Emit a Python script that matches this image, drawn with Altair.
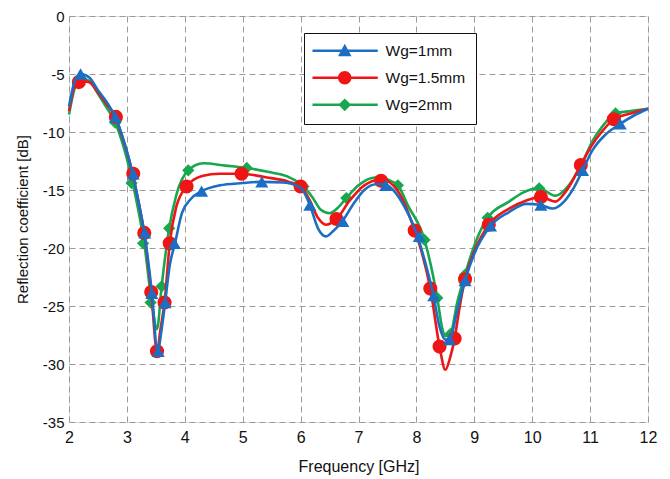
import altair as alt
import pandas as pd

series = ["Wg=1mm", "Wg=1.5mm", "Wg=2mm"]
colors = ["#1B6EC2", "#F01515", "#18A64F"]

# ---- continuous curves ----
f_blue = [2.0, 2.1, 2.2, 2.35, 2.5, 2.65, 2.8, 2.95, 3.1, 3.2, 3.3, 3.43, 3.53, 3.6, 3.66, 3.74, 3.83,
          3.95, 4.1, 4.29, 4.6, 5.0, 5.33, 5.7, 6.0, 6.16, 6.3, 6.44, 6.55, 6.72, 6.9, 7.1, 7.3, 7.45,
          7.6, 7.8, 8.02, 8.15, 8.29, 8.4, 8.5, 8.57, 8.7, 8.84, 9.0, 9.28, 9.6, 9.9, 10.15, 10.35,
          10.55, 10.72, 10.87, 11.05, 11.25, 11.52, 11.75, 12.0]
db_blue = [-7.8, -5.6, -5.0, -5.3, -6.4, -7.4, -8.7, -10.8, -13.6, -16.0, -18.7, -23.8, -28.9, -27.0,
           -24.7, -21.5, -19.6, -17.0, -15.8, -15.1, -14.6, -14.4, -14.3, -14.35, -14.8, -16.3, -18.3,
           -19.0, -18.6, -17.7, -16.3, -15.0, -14.5, -14.5, -15.0, -16.5, -19.0, -21.2, -24.0, -26.8,
           -27.9, -27.9, -25.5, -22.8, -20.5, -18.1, -16.9, -16.2, -16.3, -16.6, -16.0, -14.8, -13.3,
           -11.5, -10.3, -9.3, -8.6, -8.0]

f_red = [2.0, 2.1, 2.18, 2.35, 2.5, 2.65, 2.8, 2.95, 3.1, 3.2, 3.3, 3.42, 3.52, 3.58, 3.65, 3.74, 3.85,
         4.03, 4.3, 4.6, 4.98, 5.4, 5.8, 6.0, 6.15, 6.3, 6.44, 6.62, 6.85, 7.1, 7.39, 7.6, 7.8, 7.97,
         8.1, 8.24, 8.4, 8.5, 8.58, 8.66, 8.75, 8.84, 9.0, 9.25, 9.6, 9.9, 10.15, 10.4, 10.6, 10.84,
         11.05, 11.2, 11.41, 11.7, 12.0]
db_red = [-8.2, -6.0, -5.6, -5.7, -6.6, -7.6, -8.7, -10.9, -13.6, -16.0, -18.7, -23.8, -28.9, -27.0,
          -24.7, -19.6, -16.5, -14.7, -13.8, -13.6, -13.6, -13.9, -14.3, -14.7, -15.8, -17.4, -18.0,
          -17.5, -15.9, -14.6, -14.1, -14.6, -16.2, -18.5, -20.5, -23.5, -28.5, -30.5, -29.5, -27.8,
          -25.0, -22.7, -20.3, -18.0, -16.6, -15.9, -15.6, -16.0, -15.0, -12.85, -11.0, -10.0, -8.9,
          -8.4, -8.0]

f_green = [2.0, 2.1, 2.2, 2.35, 2.5, 2.65, 2.8, 2.95, 3.1, 3.2, 3.3, 3.43, 3.52, 3.6, 3.73, 3.85, 4.06,
           4.32, 4.7, 5.07, 5.5, 5.8, 6.05, 6.2, 6.35, 6.5, 6.65, 6.79, 7.0, 7.2, 7.36, 7.5, 7.68, 7.85,
           8.14, 8.25, 8.36, 8.45, 8.5, 8.59, 8.7, 8.84, 9.0, 9.23, 9.6, 9.85, 10.12, 10.4, 10.6, 10.84,
           11.05, 11.2, 11.44, 11.7, 12.0]
db_green = [-8.5, -6.2, -5.4, -5.6, -6.7, -7.9, -9.2, -11.4, -14.4, -16.8, -19.6, -24.7, -27.0, -23.3,
            -18.3, -15.5, -13.3, -12.7, -12.9, -13.1, -13.5, -13.9, -14.7, -15.6, -16.7, -17.0, -16.5,
            -15.7, -14.6, -14.0, -13.9, -14.1, -14.6, -16.3, -19.3, -21.5, -24.3, -27.0, -27.6, -27.4,
            -24.8, -22.3, -19.8, -17.4, -16.0, -15.2, -14.85, -15.5, -14.8, -12.9, -10.7, -9.6, -8.4,
            -8.2, -8.0]

# ---- marker positions ----
mf_blue = [2.2, 2.8, 3.11, 3.31, 3.43, 3.54, 3.66, 3.82, 4.29, 5.33, 6.16, 6.73, 7.47, 8.05, 8.3, 8.57,
           8.84, 9.28, 10.15, 10.87, 11.52]
mdb_blue = [-5.0, -8.7, -13.6, -18.7, -23.9, -28.9, -24.7, -19.6, -15.1, -14.3, -16.3, -17.7, -14.6,
            -19.0, -24.1, -27.9, -22.8, -18.1, -16.3, -13.3, -9.3]
mf_red = [2.17, 2.81, 3.11, 3.3, 3.42, 3.52, 3.65, 3.74, 4.03, 4.98, 6.0, 6.62, 7.39, 7.97, 8.24, 8.4,
          8.66, 8.84, 9.25, 10.15, 10.84, 11.41]
mdb_red = [-5.7, -8.7, -13.6, -18.7, -23.8, -28.9, -24.7, -19.6, -14.7, -13.6, -14.7, -17.5, -14.2,
           -18.5, -23.5, -28.5, -27.8, -22.7, -18.0, -15.6, -12.85, -8.9]
mf_green = [2.2, 2.8, 3.08, 3.28, 3.41, 3.6, 3.73, 4.06, 5.07, 6.05, 6.79, 7.68, 8.14, 8.36, 8.59, 8.84,
            9.23, 10.12, 10.84, 11.44]
mdb_green = [-5.4, -9.2, -14.4, -19.6, -24.7, -23.3, -18.3, -13.3, -13.1, -14.7, -15.7, -14.6, -19.3,
             -24.3, -27.4, -22.3, -17.4, -14.85, -12.9, -8.4]

x_ticks = list(range(2, 13))
y_ticks = list(range(-35, 1, 5))

FONT = "Liberation Sans"
xs = alt.Scale(domain=[2, 12], nice=False, zero=False)
ys = alt.Scale(domain=[-35, 0], nice=False, zero=False)
xaxis = alt.Axis(values=x_ticks, title="Frequency [GHz]", labelFontSize=16, titleFontSize=16,
                 labelPadding=7, titlePadding=13, titleFontWeight="normal", ticks=False,
                 labelFont=FONT, titleFont=FONT, labelColor="#111", titleColor="#111",
                 labelExpr="'' + datum.value",
                 gridDash=[6, 4], gridColor="#9a9a9a", gridWidth=1, domain=False, labelFlush=False)
yaxis = alt.Axis(values=y_ticks, title="Reflection coefficient [dB]", labelFontSize=15,
                 titleFontSize=15, labelPadding=5, titlePadding=12, titleFontWeight="normal",
                 ticks=False, labelFont=FONT, titleFont=FONT, labelColor="#111", titleColor="#111",
                 labelExpr="'' + datum.value",
                 gridDash=[6, 4], gridColor="#9a9a9a", gridWidth=1, domain=False, labelFlush=False)

shapes = ["triangle-up", "circle", "diamond"]
sizes = [170, 200, 150]

layers = []
for idx in [2, 1, 0]:
    fl, dl, mf, md = [(f_blue, db_blue, mf_blue, mdb_blue),
                      (f_red, db_red, mf_red, mdb_red),
                      (f_green, db_green, mf_green, mdb_green)][idx]
    df_l = pd.DataFrame({"f": fl, "db": dl})
    df_p = pd.DataFrame({"f": mf, "db": md})
    line = alt.Chart(df_l).mark_line(interpolate="monotone", strokeWidth=2.6,
                                     color=colors[idx]).encode(
        x=alt.X("f:Q", scale=xs, axis=xaxis), y=alt.Y("db:Q", scale=ys, axis=yaxis))
    pts = alt.Chart(df_p).mark_point(filled=True, opacity=1, size=sizes[idx], shape=shapes[idx],
                                     color=colors[idx]).encode(
        x=alt.X("f:Q", scale=xs, axis=xaxis), y=alt.Y("db:Q", scale=ys, axis=yaxis))
    layers += [line, pts]

# legend symbols: line segment + marker (unit = 7.5 px)
bar = "M-4.3,-0.17H4.4V0.17H-4.3Z"
leg_paths = [
    bar + "M0,-0.95L0.9,0.72L-0.9,0.72Z",
    bar + "M-0.9,0A0.9,0.9 0 1,1 0.9,0A0.9,0.9 0 1,1 -0.9,0Z",
    bar + "M0,-0.85L0.85,0L0,0.85L-0.85,0Z",
]
leg_df = pd.DataFrame({"s": series, "f": [2.0, 2.0, 2.0], "db": [0.0, 0.0, 0.0]})
legend_layer = alt.Chart(leg_df).transform_filter("datum.f > 100").mark_point(
    filled=True, opacity=1, size=225).encode(
    x=alt.X("f:Q", scale=xs, axis=xaxis), y=alt.Y("db:Q", scale=ys, axis=yaxis),
    color=alt.Color("s:N", scale=alt.Scale(domain=series, range=colors),
                    legend=alt.Legend(title=None, orient="none", legendX=235, legendY=17,
                                      padding=10, rowPadding=10, symbolSize=225,
                                      symbolOffset=23, labelOffset=33, labelFontSize=15.5,
                                      labelFont=FONT, labelColor="#111", strokeColor="#111",
                                      fillColor="white", symbolStrokeWidth=0,
                                      symbolOpacity=1, labelLimit=200)),
    shape=alt.Shape("s:N", scale=alt.Scale(domain=series, range=leg_paths), legend=None),
)
layers.append(legend_layer)

chart = alt.layer(*layers).properties(
    width=579, height=406,
    padding={"left": 69, "top": 16, "right": 22, "bottom": 57},
    autosize=alt.AutoSizeParams(type="none"),
).configure_view(stroke="#222", strokeWidth=1.5).configure(background="white")

chart.save("out.html", embed_options={"renderer": "svg", "actions": False})
